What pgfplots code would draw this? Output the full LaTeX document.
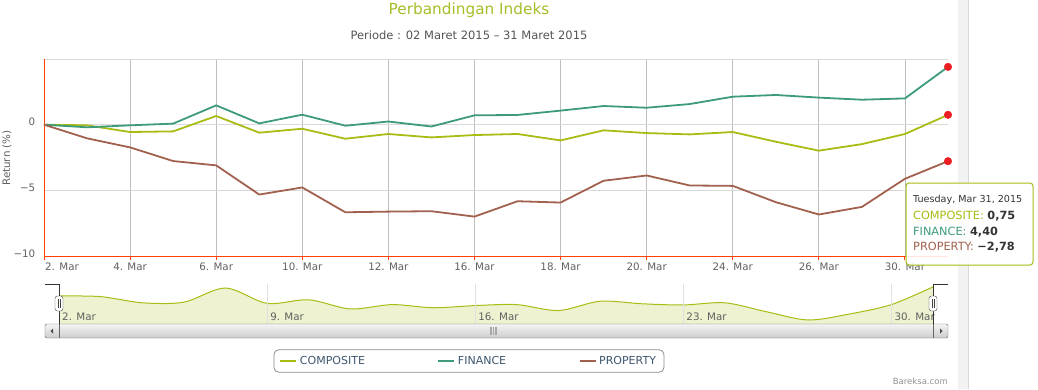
\documentclass[border=0pt]{standalone}
\usepackage{fontspec}
\setmainfont{DejaVu Sans}
\usepackage{pgfplots}
\usepackage{pgfplotstable}
\pgfplotsset{compat=1.18}
\definecolor{comp}{RGB}{169,188,20}
\definecolor{fin}{RGB}{61,154,123}
\definecolor{prop}{RGB}{162,97,78}
\definecolor{axred}{RGB}{255,64,0}
\definecolor{titlec}{RGB}{166,190,40}
\definecolor{labc}{RGB}{96,96,96}
\definecolor{legc}{RGB}{62,87,111}
\definecolor{hotred}{RGB}{235,30,35}

\pgfplotstableread{
i comp fin prop
0 0 0 0
1 -0.05 -0.20 -1.04
2 -0.56 -0.05 -1.73
3 -0.51 0.08 -2.77
4 0.66 1.47 -3.10
5 -0.61 0.10 -5.32
6 -0.31 0.76 -4.78
7 -1.07 -0.08 -6.67
8 -0.71 0.24 -6.62
9 -0.97 -0.14 -6.59
10 -0.79 0.71 -7.00
11 -0.71 0.74 -5.83
12 -1.20 1.07 -5.93
13 -0.43 1.42 -4.27
14 -0.64 1.29 -3.87
15 -0.74 1.57 -4.63
16 -0.56 2.13 -4.66
17 -1.30 2.26 -5.90
18 -1.98 2.06 -6.84
19 -1.48 1.90 -6.26
20 -0.71 2.00 -4.12
21 0.75 4.40 -2.78
}\data

\begin{document}
\begin{tikzpicture}[x=1pt,y=1pt]
\useasboundingbox (0,0) rectangle (1038,389);
\fill[black!5] (958,0) rectangle (968,389);
\draw[black!15] (968,0) -- (968,389);

\node[anchor=base, inner sep=0pt, text=titlec, font=\fontsize{15.3}{18}\selectfont] at (469,374.5) {Perbandingan Indeks};
\node[anchor=base, inner sep=0pt, text=black!67, font=\fontsize{11.5}{14}\selectfont] at (469,349.3) {Periode : 02 Maret 2015 – 31 Maret 2015};
\node[rotate=90, inner sep=0pt, text=labc, font=\fontsize{10.3}{12}\selectfont] at (7,231) {Return (\%)};

\begin{axis}[
  at={(44pt,133pt)}, anchor=south west, scale only axis,
  width=904pt, height=197pt,
  xmin=0, xmax=21, ymin=-10, ymax=5,
  clip=false,
  axis x line*=bottom, axis y line*=left,
  axis line style={draw=axred, line width=1pt},
  xtick={0,2,4,6,8,10,12,14,16,18,20},
  xticklabels={\hspace*{36pt}2. Mar,4. Mar,6. Mar,10. Mar,12. Mar,16. Mar,18. Mar,20. Mar,24. Mar,26. Mar,30. Mar},
  ytick={-10,-5,0,5},
  yticklabels={−10,−5,0,{}},
  tick align=outside, major tick length=4pt,
  xtick style={draw=axred, line width=1pt},
  ytick style={draw=none},
  xmajorgrids, ymajorgrids,
  x grid style={color=black!25, line width=0.8pt},
  y grid style={color=black!15, line width=0.8pt},
  xticklabel style={font=\fontsize{10.3}{12}\selectfont, text=labc, inner sep=0pt, anchor=base, yshift=-10pt},
  yticklabel style={font=\fontsize{10.3}{12}\selectfont, text=labc, inner sep=0pt, anchor=base east, xshift=-4.5pt, yshift=-1pt},
  legend columns=3,
  legend image code/.code={\draw[#1, line width=2pt] (0pt,0pt) -- (16pt,0pt);},
  legend style={at={(0.4701,-0.533)}, anchor=center, draw=black!45, rounded corners=5pt, line width=0.8pt,
    font=\fontsize{11}{13}\selectfont, text=legc, inner xsep=5.5pt, inner ysep=4pt,
    nodes={inner sep=2.5pt, text=legc},
    /tikz/every even column/.append style={column sep=70pt}},
]
\addplot[comp, line width=1.8pt] table[x=i,y=comp]{\data};
\addlegendentry{COMPOSITE}
\addplot[fin, line width=1.8pt] table[x=i,y=fin]{\data};
\addlegendentry{FINANCE}
\addplot[prop, line width=1.8pt] table[x=i,y=prop]{\data};
\addlegendentry{PROPERTY}
\addplot[forget plot, only marks, mark=*, mark size=3.8pt, color=hotred] coordinates {(21,0.75) (21,4.40) (21,-2.78)};
\end{axis}

% navigator
\begin{axis}[
  at={(59pt,65pt)}, anchor=south west, scale only axis,
  width=874pt, height=40pt,
  xmin=0, xmax=21, ymin=-2.31, ymax=0.99,
  axis on top,
  axis line style={draw=none},
  xtick={0,5,10,15,20},
  xticklabels={2. Mar,9. Mar,16. Mar,23. Mar,30. Mar},
  ytick=\empty,
  xtick style={draw=none},
  xmajorgrids, x grid style={color=black!12, line width=0.8pt},
  xticklabel style={font=\fontsize{10.3}{12}\selectfont, text=labc, inner sep=0pt, anchor=base west, xshift=3pt, yshift=4pt},
]
\addplot[fill=comp!20, draw=none, smooth] table[x=i,y=comp]{\data} -- (axis cs:21,-2.31) -- (axis cs:0,-2.31) -- cycle;
\addplot[comp, line width=1pt, smooth] table[x=i,y=comp]{\data};
\end{axis}

% scrollbar
\shadedraw[top color=black!4, bottom color=black!20, draw=black!60, rounded corners=1.5pt] (45,51) rectangle (948,65);
\draw[black!60] (59,51) -- (59,65) (933,51) -- (933,65);
\fill[black!70] (50.5,58) -- (53,60.5) -- (53,55.5) -- cycle;
\fill[black!70] (942.5,58) -- (940,60.5) -- (940,55.5) -- cycle;
\draw[black!35, line width=1.2pt] (491,54) -- (491,62) (493.5,54) -- (493.5,62) (496,54) -- (496,62);
% navigator outline and handles
\draw[black!80] (45,105) -- (59,105) -- (59,65);
\draw[black!80] (933,65) -- (933,105) -- (948,105);
\draw[fill=white, draw=black!75, rounded corners=2.5pt] (55,78) rectangle (63,93);
\draw[black!75] (58,81) -- (58,90) (60,81) -- (60,90);
\draw[fill=white, draw=black!75, rounded corners=2.5pt] (929,78) rectangle (937,93);
\draw[black!75] (932,81) -- (932,90) (934,81) -- (934,90);

% tooltip
\draw[comp, line width=1pt, fill=white, fill opacity=0.88, rounded corners=3pt] (906,124) rectangle (1033,206);
\node[anchor=west, inner sep=0pt, text=black!80, font=\fontsize{9.6}{11}\selectfont] at (913,189) {Tuesday, Mar 31, 2015};
\node[anchor=west, inner sep=0pt, font=\fontsize{11.3}{13}\selectfont] at (913,173) {\textcolor{comp}{COMPOSITE:} \textcolor{black!80}{\bfseries 0,75}};
\node[anchor=west, inner sep=0pt, font=\fontsize{11.3}{13}\selectfont] at (913,157) {\textcolor{fin}{FINANCE:} \textcolor{black!80}{\bfseries 4,40}};
\node[anchor=west, inner sep=0pt, font=\fontsize{11.3}{13}\selectfont] at (913,142) {\textcolor{prop}{PROPERTY:} \textcolor{black!80}{\bfseries −2,78}};

\node[anchor=base east, inner sep=0pt, text=black!43, font=\fontsize{8.5}{10}\selectfont] at (948,5) {Bareksa.com};
\end{tikzpicture}
\end{document}
